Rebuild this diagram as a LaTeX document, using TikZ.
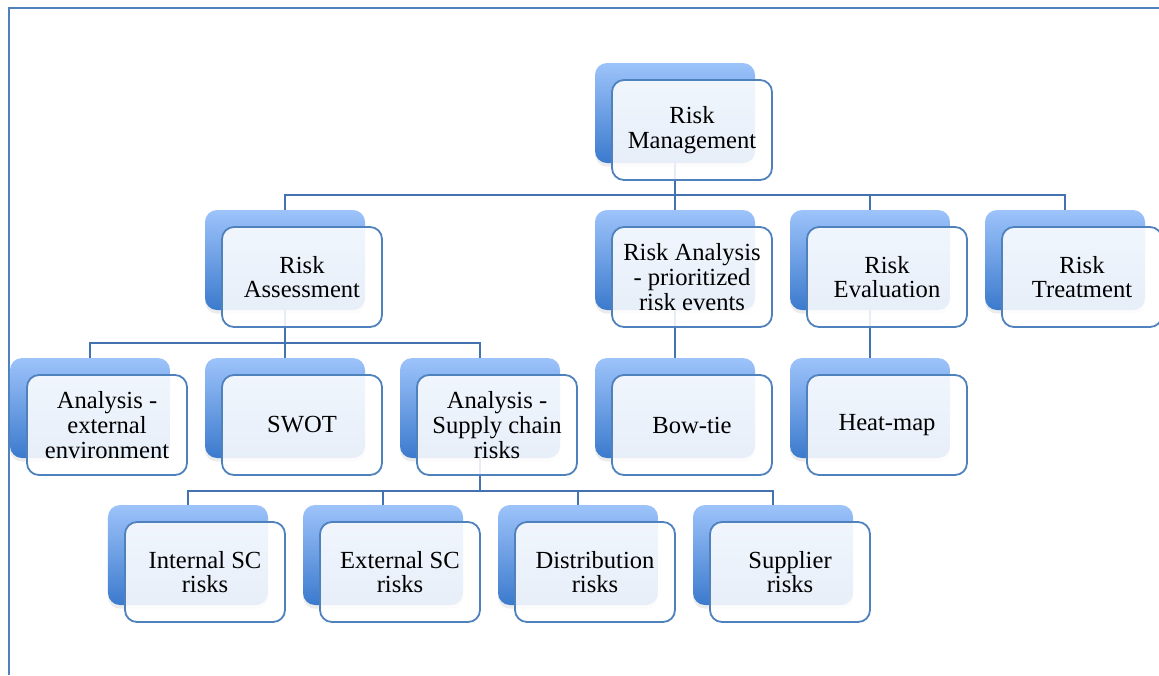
\documentclass[tikz,border=0pt]{standalone}
\usepackage{fontspec}
\setmainfont{Liberation Serif}
\usepackage{tikz}
\usetikzlibrary{positioning}
\usetikzlibrary{shadows}

\definecolor{boxtop}{RGB}{157,195,250}
\definecolor{boxbottom}{RGB}{59,122,205}
\definecolor{boxedge}{RGB}{79,129,189}
\definecolor{linkcol}{RGB}{68,114,176}

\begin{document}
\begin{tikzpicture}[x=0.25mm, y=-0.25mm,
    back/.style={rounded corners=3mm, minimum width=40mm, minimum height=25mm,
    inner sep=0pt, outer sep=0pt, top color=boxtop, bottom color=boxbottom,
    drop shadow={shadow xshift=0mm, shadow yshift=-0.9mm, opacity=0.15}},
    front/.style={draw=boxedge, line width=0.45mm, rounded corners=3mm,
    fill=white, fill opacity=0.88, text opacity=1,
    minimum width=40mm, minimum height=25mm, inner sep=0pt, outer sep=0pt,
    align=center, font=\fontsize{17.5}{17.6}\selectfont},
    link/.style={draw=linkcol, line width=0.35mm},
    frame/.style={draw=boxedge, line width=0.5mm}]

    \useasboundingbox (0,0) rectangle (1159,675);
    \draw[frame] (1159,8) -| (9,675);

    \node[back] (rmB) at (675,113) {};
    \node[back] (asB) at (285,260) {};
    \node[back] (anB) at (675,260) {};
    \node[back] (evB) at (870,260) {};
    \node[back] (trB) at (1065,260) {};
    \node[back] (exB) at (90,408) {};
    \node[back] (swB) at (285,408) {};
    \node[back] (scB) at (480,408) {};
    \node[back] (btB) at (675,408) {};
    \node[back] (hmB) at (870,408) {};
    \node[back] (inB) at (188,555) {};
    \node[back] (esB) at (383,555) {};
    \node[back] (diB) at (578,555) {};
    \node[back] (suB) at (773,555) {};

    \draw[link] (rmB.south) -- ++(0,32) -| (asB.north);
    \draw[link] (rmB.south) -- ++(0,32) -| (anB.north);
    \draw[link] (rmB.south) -- ++(0,32) -| (evB.north);
    \draw[link] (rmB.south) -- ++(0,32) -| (trB.north);
    \draw[link] (asB.south) -- ++(0,33) -| (exB.north);
    \draw[link] (asB.south) -- ++(0,33) -| (swB.north);
    \draw[link] (asB.south) -- ++(0,33) -| (scB.north);
    \draw[link] (anB.south) -- (btB.north);
    \draw[link] (evB.south) -- (hmB.north);
    \draw[link] (scB.south) -- ++(0,33) -| (inB.north);
    \draw[link] (scB.south) -- ++(0,33) -| (esB.north);
    \draw[link] (scB.south) -- ++(0,33) -| (diB.north);
    \draw[link] (scB.south) -- ++(0,33) -| (suB.north);

    \node[front] (rm) at ([shift={(17,17)}]rmB) {Risk\\Management};
    \node[front] (as) at ([shift={(17,17)}]asB) {Risk\\Assessment};
    \node[front] (an) at ([shift={(17,17)}]anB) {Risk Analysis\\- prioritized\\risk events};
    \node[front] (ev) at ([shift={(17,17)}]evB) {Risk\\Evaluation};
    \node[front] (tr) at ([shift={(17,17)}]trB) {Risk\\Treatment};
    \node[front] (ex) at ([shift={(17,17)}]exB) {Analysis -\\external\\environment};
    \node[front] (sw) at ([shift={(17,17)}]swB) {SWOT};
    \node[front] (sc) at ([shift={(17,17)}]scB) {Analysis -\\Supply chain\\risks};
    \node[front] (bt) at ([shift={(17,17)}]btB) {Bow-tie};
    \node[front] (hm) at ([shift={(17,17)}]hmB) {Heat-map};
    \node[front] (in) at ([shift={(17,17)}]inB) {Internal SC\\risks};
    \node[front] (es) at ([shift={(17,17)}]esB) {External SC\\risks};
    \node[front] (di) at ([shift={(17,17)}]diB) {Distribution\\risks};
    \node[front] (su) at ([shift={(17,17)}]suB) {Supplier\\risks};
\end{tikzpicture}
\end{document}
